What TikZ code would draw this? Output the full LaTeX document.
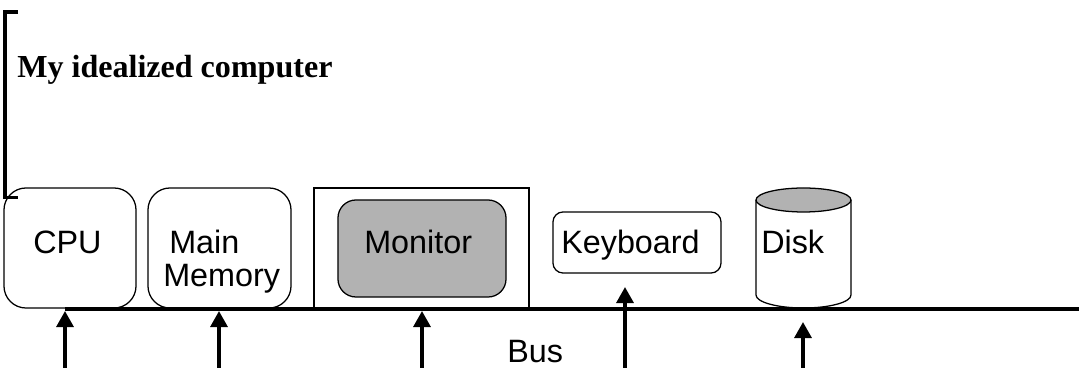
\documentclass[tikz,border=0pt]{standalone}
\usepackage{fontspec}
\setmainfont{Liberation Serif}
\setsansfont{Liberation Sans}
\usetikzlibrary{arrows.meta}

\tikzset{
	unit/.style={draw, line width=0.9pt, rounded corners=0.55cm, minimum height=3cm},
	devtext/.style={anchor=base west, inner sep=0pt, font=\sffamily\fontsize{23}{33}\selectfont},
	busarrow/.style={line width=2.6pt, -{Triangle[length=0.4cm, width=0.42cm]}}
}

\begin{document}
\begin{tikzpicture}[x=0.025cm, y=0.025cm]
	\useasboundingbox (0,0) rectangle (1079,381);

	% bracket and heading
	\draw[line width=2.6pt] (18,369) -- (5,369) -- (5,183.5) -- (18,183.5);
	\node[anchor=base west, inner sep=0pt, font=\bfseries\fontsize{22.8}{27}\selectfont] (title) at (17,303) {My idealized computer};

	% units sitting on the bus
	\node[unit, minimum width=3.3cm]	(cpu)		at (70,133)		{};
	\node[unit, minimum width=3.575cm]	(mem)		at (219.5,133)	{};
	\node[draw, line width=0.8pt, minimum width=5.375cm, minimum height=3cm] (monbox) at (421.5,133) {};
	\node[draw, line width=0.9pt, fill=gray!60, rounded corners=0.45cm,
		minimum width=4.2cm, minimum height=2.425cm]	(mon)	at (422,132.5)	{};
	\node[unit, rounded corners=0.25cm, minimum width=4.2cm, minimum height=1.525cm] (kbd) at (637,138.5) {};

	% disk drawn as a cylinder
	\draw[line width=0.9pt, fill=white] (756,181) -- (756,86) arc (180:360:47.5 and 13) -- (851,181);
	\draw[line width=0.9pt, fill=gray!60] (803.5,181) ellipse (47.5 and 12);

	\node[devtext] (cputext)	at (33,127)		{CPU};
	\node[devtext] (memtext)	at (169,127)	{Main};
	\node[devtext] (memtextb)	at (163,94)		{Memory};
	\node[devtext] (montext)	at (364,127)	{Monitor};
	\node[devtext] (kbdtext)	at (561,127)	{Keyboard};
	\node[devtext] (disktext)	at (761,127)	{Disk};
	\node[devtext] (bustext)	at (507,18)		{Bus};

	% the bus
	\coordinate (busL) at (65,72);
	\coordinate (busR) at (1079,72);
	\draw[line width=3pt] (busL) -- (busR);

	% signals coming up to the bus
	\coordinate (cpuin)		at (65,13);		\coordinate (cputip)	at (65,70);
	\coordinate (memin)		at (219,13);	\coordinate (memtip)	at (219,70);
	\coordinate (monin)		at (422,13);	\coordinate (montip)	at (422,70);
	\coordinate (kbdin)		at (625,13);	\coordinate (kbdtip)	at (625,94);
	\coordinate (diskin)	at (803,13);	\coordinate (disktip)	at (803,59);

	\draw[busarrow] (cpuin) -- (cputip);
	\draw[busarrow] (memin) -- (memtip);
	\draw[busarrow] (monin) -- (montip);
	\draw[busarrow] (kbdin) -- (kbdtip);
	\draw[busarrow] (diskin) -- (disktip);
\end{tikzpicture}
\end{document}
